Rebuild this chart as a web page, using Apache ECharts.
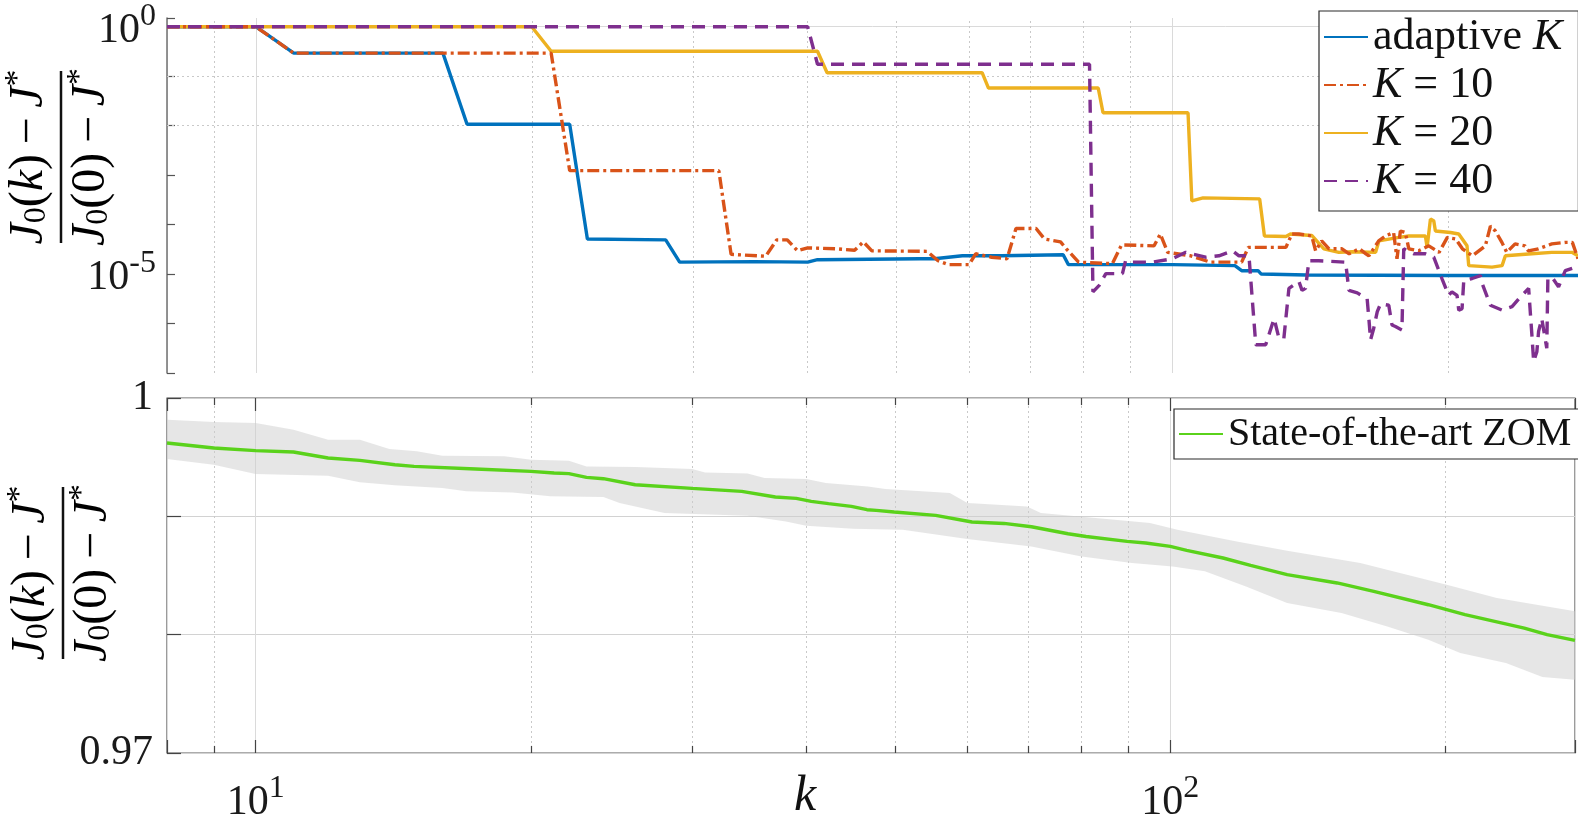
<!DOCTYPE html>
<html><head><meta charset="utf-8">
<script src="https://cdn.jsdelivr.net/npm/echarts@6/dist/echarts.min.js"></script>
<style>html,body{margin:0;padding:0;background:#fff}#c{width:1578px;height:824px}</style>
</head><body><div id="c"></div>
<script>
// ---------------- data ----------------
const kAdaptive = [8, 10, 11, 16, 17, 22, 23, 28, 29, 35, 40, 41, 53, 55, 59, 65, 76, 77, 100, 117, 119, 124, 125, 140, 200, 277];
const vAdaptive = [1, 1, 0.292, 0.292, 0.0107, 0.0107, 5.13e-5, 4.9e-5, 1.74e-5, 1.78e-5, 1.74e-5, 1.95e-5, 2.04e-5, 2.04e-5, 2.34e-5, 2.34e-5, 2.45e-5, 1.55e-5, 1.55e-5, 1.48e-5, 1.17e-5, 1.17e-5, 1.0e-5, 9.55e-6, 9.33e-6, 9.33e-6];

const kK10 = [8,10,11,21,22,32,33,36,37,38, 39,40,43,45,46,47,54,55.5,57,60, 61,63.5,66,67.5,71,72.5,75.5,76.6,79,86, 88,95.5,97,98.8,104.7,110,119,121,133,135, 137.4,141.9,143.3,145.5,148.2,153.1,155.9,159.9,162.6,163.8, 167.9,170.8,174.3,175.8,177.3,179.5,181.1,185.6,190.4,195.4, 199.5,203.7,207.2,212.5,219.5,222.3,225.1,228.8,231.6,236.5, 242.5,244.5,250.8,259.4,268.5,273.1,277];
const vK10 = [1, 1, 0.292, 0.292, 1.23e-3, 1.23e-3, 2.51e-5, 2.29e-5, 4.9e-5, 4.9e-5,
  2.95e-5, 3.39e-5, 3.24e-5, 3.02e-5, 4.47e-5, 2.95e-5, 2.88e-5, 1.86e-5, 1.55e-5, 1.55e-5,
  2.57e-5, 2.19e-5, 2.04e-5, 8.32e-5, 8.32e-5, 5.13e-5, 4.47e-5, 3.24e-5, 1.74e-5, 1.62e-5,
  3.89e-5, 3.72e-5, 6.46e-5, 2.75e-5, 2.34e-5, 1.74e-5, 1.74e-5, 3.47e-5, 3.47e-5, 6.46e-5,
  6.46e-5, 5.89e-5, 2.95e-5, 4.68e-5, 3.24e-5, 3.24e-5, 2.57e-5, 3.24e-5, 2.57e-5, 2.34e-5,
  4.68e-5, 5.89e-5, 6.92e-5, 2.04e-5, 7.41e-5, 6.92e-5, 3.24e-5, 2.95e-5, 3.72e-5, 2.75e-5,
  5.5e-5, 5.13e-5, 3.24e-5, 2.34e-5, 3.72e-5, 9.33e-5, 7.41e-5, 4.37e-5, 2.75e-5, 4.07e-5,
  3.72e-5, 2.95e-5, 3.24e-5, 4.07e-5, 4.37e-5, 4.37e-5, 2.04e-5];

const kK20 = [8,20,21,41,42,62,63,83,84,104, 105,108,124.5,126,133,134.5,141.9,146.3,151.9,157.1, 166.6,168,176.6,181.1,188.8,189.6,191.2,192.8,193.6,201.1, 205.3,209.6,210.5,223.2,228.9,230.8,246.7,259.4,272.8,277];
const vK20 = [1, 1, 0.32, 0.32, 0.1175, 0.1175, 0.0575, 0.0575, 0.0182, 0.0182,
  3.02e-4, 3.47e-4, 3.31e-4, 5.89e-5, 5.75e-5, 6.46e-5, 6.03e-5, 3.24e-5, 2.75e-5, 2.82e-5,
  2.75e-5, 4.68e-5, 5.5e-5, 5.89e-5, 5.89e-5, 3.47e-5, 1.29e-4, 1.2e-4, 7.41e-5, 6.92e-5,
  6.46e-5, 3.72e-5, 1.48e-5, 1.38e-5, 1.48e-5, 2.34e-5, 2.57e-5, 2.75e-5, 2.75e-5, 2.34e-5];

const kK40 = [8,40,41,81.2,81.9,83.2,84.6,88.2,88.9,90.4, 95.1,100,103.4,108.7,112.4,116.3,118.2,121.2,122.2,123.3, 126.4,129.1,130.7,132.3,134,137.4,138.5,139.7,140.9,144.4, 154.5,155.8,159.1,163.1,163.8,164.5,165.8,167.3,168.7,172.2, 173.6,175.1,178,178.8,183.3,188.8,192.8,196.8,200.1,201.8, 204.4,205.3,207,207.9,212.3,216.8,217.7,222.3,228.9,234.7, 238.7,244.7,246.7,247.8,249.8,250.9,252.9,256.1,256.8,259.4, 263.8,268.3,275.2,277];
const vK40 = [1, 1, 0.174, 0.174, 4.37e-6, 5.89e-6, 1.02e-5, 1.02e-5, 1.86e-5, 1.74e-5,
  1.74e-5, 2.04e-5, 2.75e-5, 2.19e-5, 2.34e-5, 2.95e-5, 2.34e-5, 2.34e-5, 3.16e-6, 3.72e-7,
  3.72e-7, 1.26e-6, 5.01e-7, 5.01e-7, 5.13e-6, 7.08e-6, 4.68e-6, 5.13e-6, 1.86e-5, 1.86e-5,
  1.74e-5, 4.68e-6, 4.17e-6, 3.16e-6, 1.26e-6, 4.68e-7, 7.94e-7, 1.74e-6, 2.51e-6, 2.34e-6,
  9.33e-7, 8.71e-7, 7.41e-7, 3.24e-5, 2.57e-5, 2.57e-5, 2.19e-5, 8.13e-6, 3.72e-6, 4.37e-6,
  3.72e-6, 1.86e-6, 2.0e-6, 7.41e-6, 8.13e-6, 9.33e-6, 6.46e-6, 2.34e-6, 1.86e-6, 2.19e-6,
  3.16e-6, 5.13e-6, 5.89e-7, 1.7e-7, 2.69e-7, 6.92e-7, 1.26e-6, 3.16e-7, 8.13e-6, 8.71e-6,
  5.5e-6, 1.17e-5, 1.38e-5, 1.38e-5];

const kZom = [8,9,10,11,12,13,14.2,14.9,17.4,20, 21.2,22,23,24,26,30,34,37,39,40.5, 42.3,44.8,46.6,47.7,49.9,55.4,60.7,65.8,70.5,77.3, 80.9,89.7,94,100,104.2,114.2,122.4,134.2,152.2,166.9, 191.5,210,243.8,258.2,277];
const vZom = [0.9962,0.99578,0.99555,0.99544,0.99493,0.99473,0.99436,0.99422,0.994,0.9938,
  0.99366,0.99361,0.99329,0.99318,0.99267,0.99236,0.99211,0.99163,0.99152,0.99126,
  0.99107,0.99084,0.99056,0.9905,0.99037,0.99008,0.98952,0.9894,0.98912,0.98853,
  0.9883,0.98788,0.98775,0.98746,0.98712,0.98648,0.98585,0.98507,0.98437,0.98366,
  0.98253,0.98169,0.98056,0.98,0.97952];
const kZomUpper = [8,9,10,11,12,13,14,15,16,18.7, 20,22,23,26,30,31,34.5,36,40,42, 46.7,48.8,57.4,60,69.7,72.2,95,101.8,118.2,134.2, 161.3,200.5,227.5,255.2,277];
const vZomUpper = [0.99817,0.99797,0.99789,0.99732,0.99648,0.99648,0.99569,0.99549,0.99513,0.99507,
  0.99479,0.9947,0.99422,0.99417,0.994,0.99371,0.99361,0.99324,0.99316,0.99282,
  0.99253,0.99231,0.99197,0.99113,0.99084,0.99028,0.98944,0.98887,0.98788,0.9871,
  0.98606,0.98422,0.9831,0.98245,0.98197];
const kZomLower = [8,9,10,12,13,14.2,16,17,19.1,21, 24,25,28,34.5,38,40,45,51,60,70.5, 80,90.8,100.6,109.1,121,134.2,153.9,172.7,191.5,207.5, 232.8,255.2,277];
const vZomLower = [0.99485,0.99436,0.99358,0.99343,0.99287,0.99262,0.99239,0.99211,0.99202,0.99169,
  0.99163,0.99113,0.99028,0.99005,0.98957,0.98921,0.98895,0.98887,0.98809,0.98746,
  0.98661,0.98606,0.98577,0.98535,0.98408,0.98268,0.98183,0.9807,0.97957,0.97845,
  0.9776,0.97642,0.97619];

// axis ticks / grid positions
const xMinorTicks = [9, 20, 30, 40, 50, 60, 70, 80, 90, 200];
const topMajorGrid = [1, 1e-5];
const topMinorGrid = [1e-1, 1e-2, 1e-3, 1e-4, 1e-6, 1e-7];
const topTickLabels = {'0': '{b|10}{s|0}', '-5': '{b|10}{s|-5}'};
const bottomYLabels = {'0.97': '0.97', '1': '1'};
const bottomXLabels = {'1': '{b|10}{s|1}', '2': '{b|10}{s|2}'};

// ---------------- chart ----------------
const SERIF = 'Liberation Serif, Tinos, DejaVu Serif, Times New Roman, serif';
const pair = (ks, vs) => ks.map((k, i) => [k, vs[i]]);
const dotStyle = {color: '#c9c9c9', width: 1, type: [2, 3]};
const solidGrid = {color: '#dadada', width: 1, type: 'solid'};
const richTick = {
  b: {fontFamily: SERIF, fontSize: 42, color: '#1a1a1a', padding: [8, 0, 0, 0]},
  s: {fontFamily: SERIF, fontSize: 32, color: '#1a1a1a', padding: [0, 0, 20, 0]}
};
const lg = v => Math.round(Math.log10(v) * 1000) / 1000;
const LW = 3.4;

const chart = echarts.init(document.getElementById('c'), null, {renderer: 'canvas'});

const W = 1413;
const fracRich = {
  i: {fontFamily: SERIF, fontStyle: 'italic', fontSize: 48, color: '#111'},
  n: {fontFamily: SERIF, fontSize: 48, color: '#111'},
  sub: {fontFamily: SERIF, fontSize: 32, color: '#111', padding: [16, 0, 0, 0]},
  sup: {fontFamily: SERIF, fontSize: 34, color: '#111', padding: [0, 0, 22, 0]}
};
function fracLabel(cx, cy) {
  return {
    type: 'group', x: cx, y: cy, rotation: Math.PI / 2, silent: true,
    children: [
      {type: 'text', x: 0, y: -4, style: {text: '{i|J}{sub|0}{n|(}{i|k}{n|)\u2009\u2212\u2009}{i|J}{sup|*}', rich: fracRich, align: 'center', verticalAlign: 'bottom'}},
      {type: 'line', shape: {x1: -86, y1: 0, x2: 86, y2: 0}, style: {stroke: '#111', lineWidth: 2.5}},
      {type: 'text', x: 0, y: 2, style: {text: '{i|J}{sub|0}{n|(0)\u2009\u2212\u2009}{i|J}{sup|*}', rich: fracRich, align: 'center', verticalAlign: 'top'}}
    ]
  };
}

const legendNames = {
  'adaptive K': 'adaptive {i|K}',
  'K = 10': '{i|K} = 10',
  'K = 20': '{i|K} = 20',
  'K = 40': '{i|K} = 40'
};

const option = {
  animation: false,
  backgroundColor: '#fff',
  textStyle: {fontFamily: SERIF},
  grid: [
    {left: 167, top: 18, width: W, height: 355, show: false},
    {left: 167, top: 398, width: W, height: 355, show: true, borderColor: '#5a5a5a', borderWidth: 1.2, backgroundColor: 'transparent'}
  ],
  xAxis: [
    {gridIndex: 0, type: 'log', logBase: 10, min: 8, max: 277,
     axisLine: {show: false}, axisTick: {show: false}, axisLabel: {show: false},
     splitLine: {show: true, lineStyle: solidGrid}},
    {gridIndex: 1, type: 'log', logBase: 10, min: 8, max: 277, position: 'bottom',
     axisLine: {show: false},
     axisTick: {show: true, inside: true, length: 13, lineStyle: {color: '#444', width: 1.2}},
     axisLabel: {show: true, margin: 20, fontFamily: SERIF, formatter: v => bottomXLabels[String(lg(v))] || '', rich: richTick},
     splitLine: {show: true, lineStyle: solidGrid}},
    {gridIndex: 1, type: 'log', logBase: 10, min: 8, max: 277, position: 'top',
     axisLine: {show: false},
     axisTick: {show: true, inside: true, length: 13, lineStyle: {color: '#444', width: 1.2}},
     axisLabel: {show: false}, splitLine: {show: false}}
  ],
  yAxis: [
    {gridIndex: 0, type: 'log', logBase: 10, min: 1e-7, max: 1.5,
     axisLine: {show: true, lineStyle: {color: '#7a7a7a', width: 1.6}},
     axisTick: {show: true, inside: true, length: 8, lineStyle: {color: '#555', width: 1.2}},
     axisLabel: {show: true, margin: 11, fontFamily: SERIF,
       formatter: v => { const e = Math.log10(v); const r = Math.round(e); return (Math.abs(e - r) < 1e-6 && topTickLabels[String(r)]) || ''; },
       rich: richTick},
     splitLine: {show: false}},
    {gridIndex: 1, type: 'value', min: 0.97, max: 1, interval: 0.01,
     axisLine: {show: false},
     axisTick: {show: true, inside: true, length: 14, lineStyle: {color: '#444', width: 1.2}},
     axisLabel: {show: true, margin: 14, fontFamily: SERIF, fontSize: 42, color: '#1a1a1a',
       formatter: v => bottomYLabels[String(Math.round(v * 100) / 100)] || ''},
     splitLine: {show: true, lineStyle: {color: '#d2d2d2', width: 1}}}
  ],
  legend: [
    {data: ['adaptive K', 'K = 10', 'K = 20', 'K = 40'], orient: 'vertical', left: 1319, top: 11,
     itemWidth: 44, itemHeight: 14, itemGap: 4, padding: [4, 16, 8, 4], selectedMode: false,
     backgroundColor: '#fff', borderColor: '#2a2a2a', borderWidth: 1.2,
     itemStyle: {opacity: 0, borderWidth: 0},
     formatter: n => legendNames[n] || n,
     textStyle: {fontFamily: SERIF, fontSize: 44, lineHeight: 44, color: '#111',
       rich: {i: {fontFamily: SERIF, fontStyle: 'italic', fontSize: 44, lineHeight: 44, color: '#111'}}}},
    {data: ['State-of-the-art ZOM'], orient: 'vertical', left: 1174, top: 409,
     itemWidth: 44, itemHeight: 14, padding: [4, 12, 4, 4], selectedMode: false,
     backgroundColor: '#fff', borderColor: '#2a2a2a', borderWidth: 1.2,
     itemStyle: {opacity: 0, borderWidth: 0},
     textStyle: {fontFamily: SERIF, fontSize: 40, lineHeight: 42, color: '#111'}}
  ],
  series: [
    // grid helpers (top)
    {type: 'line', xAxisIndex: 0, yAxisIndex: 0, data: [[10, 1e-3]], symbol: 'none', silent: true,
     lineStyle: {opacity: 0},
     markLine: {z: 1, silent: true, symbol: ['none', 'none'], label: {show: false}, animation: false,
       data: [
         ...topMinorGrid.map(v => ({yAxis: v, lineStyle: dotStyle})),
         ...topMajorGrid.map(v => ({yAxis: v, lineStyle: solidGrid})),
         ...xMinorTicks.map(k => ({xAxis: k, lineStyle: dotStyle}))
       ]}},
    // grid helpers (bottom)
    {type: 'line', xAxisIndex: 1, yAxisIndex: 1, data: [[10, 0.985]], symbol: 'none', silent: true,
     lineStyle: {opacity: 0},
     markLine: {z: 1, silent: true, symbol: ['none', 'none'], label: {show: false}, animation: false,
       data: xMinorTicks.map(k => ({xAxis: k, lineStyle: dotStyle}))}},
    // minor ticks (bottom plot, bottom and top edges)
    {type: 'line', xAxisIndex: 1, yAxisIndex: 1, data: [[10, 0.985]], symbol: 'none', silent: true,
     lineStyle: {opacity: 0},
     markLine: {z: 6, silent: true, symbol: ['none', 'none'], label: {show: false}, animation: false,
       lineStyle: {color: '#444', width: 1.2, type: 'solid'},
       data: [
         ...xMinorTicks.map(k => [{coord: [k, 0.97]}, {coord: [k, 0.9706]}]),
         ...xMinorTicks.map(k => [{coord: [k, 1]}, {coord: [k, 0.9994]}])
       ]}},
    // band
    {type: 'custom', name: 'band', xAxisIndex: 1, yAxisIndex: 1, silent: true, z: 2,
     data: [[kZomUpper[0], vZomUpper[0]]],
     renderItem: (params, api) => {
       const pts = [];
       kZomUpper.forEach((k, i) => pts.push(api.coord([k, vZomUpper[i]])));
       for (let i = kZomLower.length - 1; i >= 0; i--) pts.push(api.coord([kZomLower[i], vZomLower[i]]));
       return {type: 'polygon', shape: {points: pts}, style: {fill: 'rgba(205,205,205,0.5)'}};
     }},
    {name: 'State-of-the-art ZOM', type: 'line', xAxisIndex: 1, yAxisIndex: 1, z: 4, symbol: 'none', showSymbol: false,
     data: pair(kZom, vZom), lineStyle: {color: '#5ad21b', width: LW}, itemStyle: {color: '#5ad21b'}},
    // top plot
    {name: 'adaptive K', type: 'line', xAxisIndex: 0, yAxisIndex: 0, z: 3, symbol: 'none', showSymbol: false,
     data: pair(kAdaptive, vAdaptive), lineStyle: {color: '#0072BD', width: LW}, itemStyle: {color: '#0072BD'}},
    {name: 'K = 10', type: 'line', xAxisIndex: 0, yAxisIndex: 0, z: 4, symbol: 'none', showSymbol: false,
     data: pair(kK10, vK10), lineStyle: {color: '#D95319', width: LW, type: [12, 4, 3, 4]}, itemStyle: {color: '#D95319'}},
    {name: 'K = 20', type: 'line', xAxisIndex: 0, yAxisIndex: 0, z: 3, symbol: 'none', showSymbol: false,
     data: pair(kK20, vK20), lineStyle: {color: '#EDB120', width: LW}, itemStyle: {color: '#EDB120'}},
    {name: 'K = 40', type: 'line', xAxisIndex: 0, yAxisIndex: 0, z: 5, symbol: 'none', showSymbol: false,
     data: pair(kK40, vK40), lineStyle: {color: '#7E2F8E', width: LW, type: [13, 8]}, itemStyle: {color: '#7E2F8E'}}
  ],
  graphic: [
    fracLabel(61, 157),
    fracLabel(63, 573),
    {type: 'text', x: 805, y: 797, silent: true,
     style: {text: 'k', fontFamily: SERIF, fontStyle: 'italic', fontSize: 50, fill: '#111', align: 'center', verticalAlign: 'middle'}}
  ]
};
chart.setOption(option);
</script></body></html>
